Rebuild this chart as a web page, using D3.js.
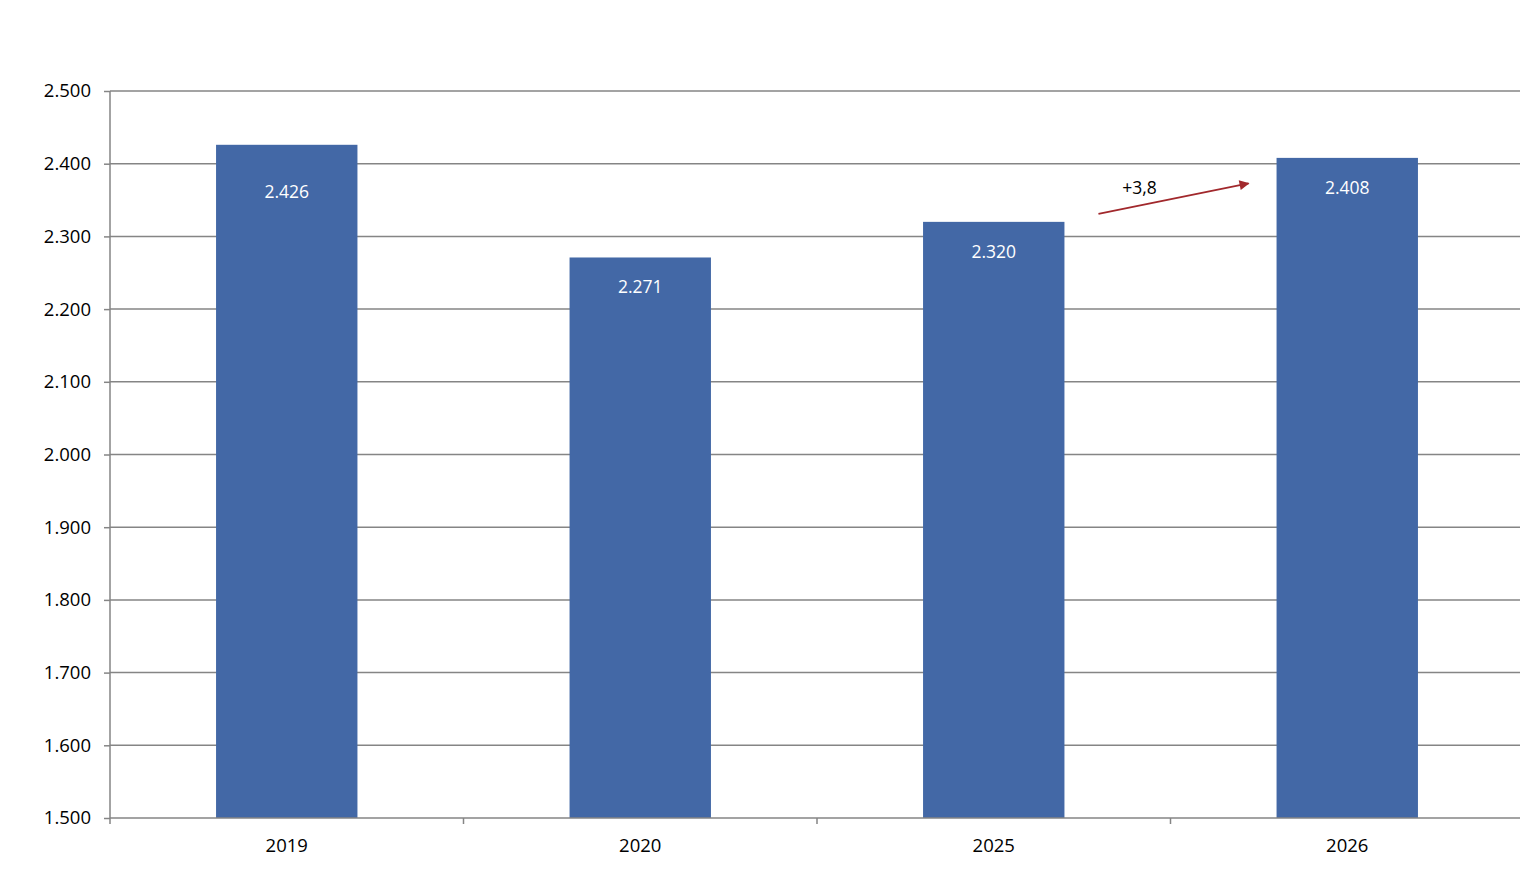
<!DOCTYPE html>
<html>
<head>
<meta charset="utf-8">
<script src="https://cdn.jsdelivr.net/npm/d3@7"></script>
<style>
  html, body { margin: 0; padding: 0; background: #fff; }
  svg { display: block; font-family: 'Open Sans', 'Liberation Sans', sans-serif; }
</style>
</head>
<body>
<div id="chart"></div>
<script>
// ── DATA ──────────────────────────────────────────────
const years  = ['2019', '2020', '2025', '2026'];
const values = [2426, 2271, 2320, 2408];
const labels = ['2.426', '2.271', '2.320', '2.408'];
const yTicks = [1500, 1600, 1700, 1800, 1900, 2000, 2100, 2200, 2300, 2400, 2500];
const changeLabel = '+3,8';

const W = 1520, H = 884;
const m = { left: 110, right: -4, top: 91, bottom: 66 };
const fmt = v => d3.format(',')(v).replace(/,/g, '.');

const svg = d3.select('#chart').append('svg')
  .attr('width', W).attr('height', H);

const x = d3.scaleBand().domain(years).range([m.left, W - m.right]).padding(0);
const y = d3.scaleLinear().domain([1500, 2500]).range([H - m.bottom, m.top]);

// gridlines
svg.append('g')
  .selectAll('line').data(yTicks.slice(1)).enter().append('line')
  .attr('x1', m.left).attr('x2', W)
  .attr('y1', d => y(d)).attr('y2', d => y(d))
  .attr('stroke', '#858585').attr('stroke-width', 1.5);

// bars
const bw = x.bandwidth() * 0.4;
svg.append('g')
  .selectAll('rect').data(years).enter().append('rect')
  .attr('x', d => x(d) + (x.bandwidth() - bw) / 2)
  .attr('width', bw)
  .attr('y', (d, i) => y(values[i]))
  .attr('height', (d, i) => y(1500) - y(values[i]))
  .attr('fill', '#4368a6');

// value labels
svg.append('g')
  .selectAll('text').data(years).enter().append('text')
  .attr('x', d => x(d) + x.bandwidth() / 2)
  .attr('y', (d, i) => y(values[i]) + (i === 0 ? 53 : 36))
  .attr('text-anchor', 'middle')
  .attr('font-size', 17.5)
  .attr('fill', '#fff')
  .text((d, i) => labels[i]);

// left axis
const yAxis = svg.append('g')
  .attr('transform', `translate(${m.left},0)`)
  .call(d3.axisLeft(y).tickValues(yTicks).tickFormat(fmt).tickSize(6).tickPadding(13));
yAxis.select('.domain').attr('stroke', '#858585').attr('stroke-width', 1.5).attr('d', `M0,${y(2500)}V${y(1500)}`);
yAxis.selectAll('.tick line').attr('stroke', '#858585').attr('stroke-width', 1.5);
yAxis.selectAll('.tick text').attr('font-size', 18.5).attr('fill', '#000')
  .attr('font-family', "'Open Sans', sans-serif");

// bottom axis
const xAxis = svg.append('g')
  .attr('transform', `translate(0,${y(1500)})`);
xAxis.append('line')
  .attr('x1', m.left).attr('x2', W).attr('y1', 0).attr('y2', 0)
  .attr('stroke', '#858585').attr('stroke-width', 1.5);
xAxis.selectAll('line.tk').data(years).enter().append('line')
  .attr('class', 'tk')
  .attr('x1', d => x(d)).attr('x2', d => x(d))
  .attr('y1', 0).attr('y2', 6)
  .attr('stroke', '#858585').attr('stroke-width', 1.5);
xAxis.selectAll('text').data(years).enter().append('text')
  .attr('x', d => x(d) + x.bandwidth() / 2)
  .attr('y', 34)
  .attr('text-anchor', 'middle')
  .attr('font-size', 18.5).attr('fill', '#000')
  .text(d => d);

// change annotation arrow
const defs = svg.append('defs');
defs.append('marker')
  .attr('id', 'arrowHead').attr('viewBox', '0 0 10 10')
  .attr('refX', 9).attr('refY', 5)
  .attr('markerWidth', 14).attr('markerHeight', 10)
  .attr('markerUnits', 'userSpaceOnUse')
  .attr('orient', 'auto')
  .append('path').attr('d', 'M0,0L10,5L0,10Z').attr('fill', '#a1282c');

const xa = x('2025') + x.bandwidth() / 2 + bw / 2 + 34;
const xb = x('2026') + (x.bandwidth() - bw) / 2 - 28;
svg.append('line')
  .attr('x1', xa).attr('y1', y(2331))
  .attr('x2', xb).attr('y2', y(2373))
  .attr('stroke', '#a1282c').attr('stroke-width', 1.8)
  .attr('marker-end', 'url(#arrowHead)');
svg.append('text')
  .attr('x', xa + 41).attr('y', y(2359))
  .attr('text-anchor', 'middle')
  .attr('font-size', 17.5).attr('fill', '#000')
  .text(changeLabel);
</script>
</body>
</html>
